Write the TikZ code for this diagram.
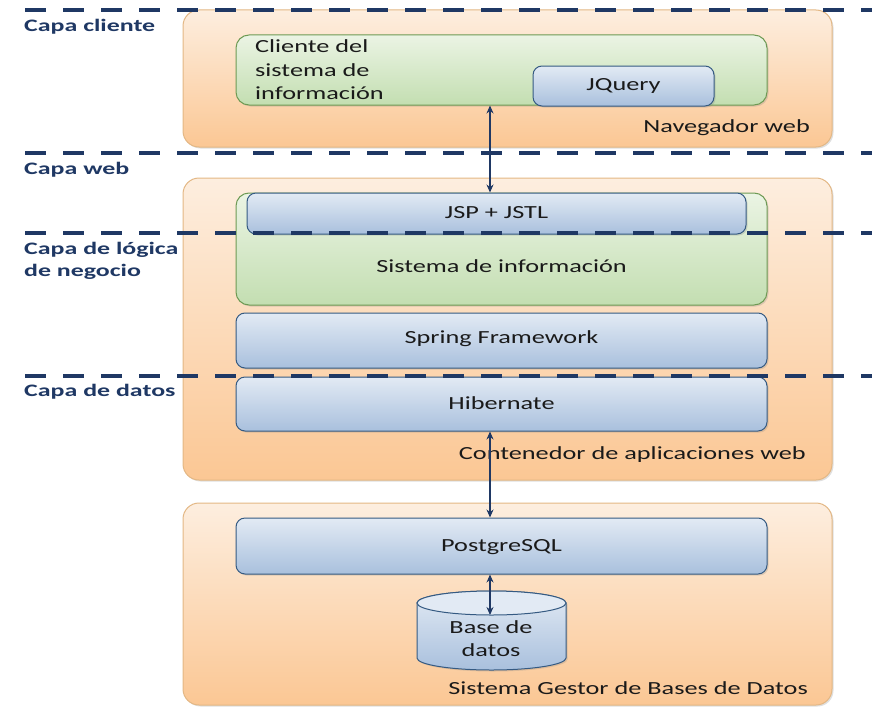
\documentclass[tikz,border=0pt]{standalone}
\usepackage{fontspec}
\usepackage{graphicx}
\setmainfont{Carlito}
\usetikzlibrary{arrows.meta,shadows}
\definecolor{navy}{HTML}{1F3864}
\definecolor{orTop}{HTML}{FDEEDF}
\definecolor{orBot}{HTML}{FBC794}
\definecolor{orLine}{HTML}{E3B784}
\definecolor{grTop}{HTML}{EBF4E4}
\definecolor{grBot}{HTML}{C3DEB1}
\definecolor{grLine}{HTML}{6E9A54}
\definecolor{blTop}{HTML}{E2EAF4}
\definecolor{blBot}{HTML}{A9C0DD}
\definecolor{blLine}{HTML}{355A82}
\definecolor{txt}{HTML}{1A1A1A}
\newcommand{\sxbox}[1]{\scalebox{1.42}[1]{#1}}
\newcommand{\sxlab}[1]{\scalebox{1.48}[1]{#1}}
\tikzset{
  outerbox/.style={rectangle, rounded corners=16pt, draw=orLine, line width=1pt, top color=orTop, bottom color=orBot, drop shadow={opacity=0.25, shadow xshift=1.5pt, shadow yshift=-1.5pt}},
  greenbox/.style={rectangle, rounded corners=13pt, draw=grLine, line width=1pt, top color=grTop, bottom color=grBot, drop shadow={opacity=0.25, shadow xshift=1.5pt, shadow yshift=-1.5pt}},
  bluebox/.style={rectangle, rounded corners=9pt, draw=blLine, line width=1pt, top color=blTop, bottom color=blBot, drop shadow={opacity=0.25, shadow xshift=1.5pt, shadow yshift=-1.5pt}},
  boxtxt/.style={font=\fontsize{18.5}{23.5}\selectfont, text=txt, inner sep=0pt},
  layertxt/.style={font=\fontsize{17.5}{22}\selectfont\bfseries, text=navy, inner sep=0pt, anchor=west, align=left},
  layerline/.style={draw=navy, line width=4pt, dash pattern=on 21pt off 17pt},
  arr/.style={draw=navy, line width=1.3pt, {Stealth[length=8pt,width=7pt]}-{Stealth[length=8pt,width=7pt]}},
}
\begin{document}
\begin{tikzpicture}[x=1pt,y=-1pt]
\useasboundingbox (0,0) rectangle (872,709);
% outer containers
\node[outerbox, minimum width=649pt, minimum height=137pt] (nav) at (507.5,78.5) {};
\node[outerbox, minimum width=649pt, minimum height=302pt] (cont) at (507.5,329) {};
\node[outerbox, minimum width=649pt, minimum height=202pt] (sgbd) at (507.5,604) {};
\node[boxtxt, anchor=east] (navl) at (810,128) {\sxbox{Navegador web}};
\node[boxtxt, anchor=east] (contl) at (806,455) {\sxbox{Contenedor de aplicaciones web}};
\node[boxtxt, anchor=east] (sgbdl) at (808,688) {\sxbox{Sistema Gestor de Bases de Datos}};
% client layer
\node[greenbox, minimum width=531pt, minimum height=70pt] (cli) at (501.5,70) {};
\node[boxtxt, anchor=west, align=left] (clil) at (255,70) {\sxbox{Cliente del}\\\sxbox{sistema de}\\\sxbox{información}};
\node[bluebox, minimum width=181pt, minimum height=40pt] (jq) at (623.5,86) {};
\node[boxtxt] (jql) at (623.5,86) {\sxbox{JQuery}};
% web container
\node[greenbox, minimum width=531pt, minimum height=112pt] (si) at (501.5,249) {};
\node[boxtxt] (sil) at (501.5,266) {\sxbox{Sistema de información}};
\node[bluebox, minimum width=499pt, minimum height=41pt] (jsp) at (496.5,213.5) {};
\node[boxtxt] (jspl) at (496.5,213) {\sxbox{JSP + JSTL}};
\node[bluebox, minimum width=531pt, minimum height=55pt] (spr) at (501.5,340.5) {};
\node[boxtxt] (sprl) at (501.5,339) {\sxbox{Spring Framework}};
\node[bluebox, minimum width=531pt, minimum height=54pt] (hib) at (501.5,404) {};
\node[boxtxt] (hibl) at (501.5,403) {\sxbox{Hibernate}};
% database
\node[bluebox, minimum width=531pt, minimum height=56pt] (pg) at (501.5,546) {};
\node[boxtxt] (pgl) at (501.5,547) {\sxbox{PostgreSQL}};
\shade[top color=blTop, bottom color=blBot, draw=blLine, line width=1pt, drop shadow={opacity=0.25, shadow xshift=1.5pt, shadow yshift=-1.5pt}]
  (417,603) -- (417,658) arc (180:360:74.5pt and 12pt) -- (566,603) arc (0:180:74.5pt and 12pt) -- cycle;
\filldraw[fill=blTop, draw=blLine, line width=1pt] (491.5,603) ellipse (74.5pt and 12pt);
\node[boxtxt, align=center] (db) at (491,638.5) {\sxbox{Base de}\\\sxbox{datos}};
\coordinate (cyltop) at (491.5,615);
% connectors
\coordinate (ax) at (490,0);
\draw[arr] (ax |- cli.south) -- (ax |- jsp.north);
\draw[arr] (ax |- hib.south) -- (ax |- pg.north);
\draw[arr] (ax |- pg.south) -- (ax |- cyltop);
% layer separators
\draw[layerline] (25,10) -- (872,10);
\draw[layerline] (25,153) -- (872,153);
\draw[layerline] (25,233) -- (872,233);
\draw[layerline] (25,376) -- (872,376);
\node[layertxt] (l1) at (24,27) {\sxlab{Capa cliente}};
\node[layertxt] (l2) at (24,170) {\sxlab{Capa web}};
\node[layertxt] (l3) at (24,261) {\sxlab{Capa de lógica}\\\sxlab{de negocio}};
\node[layertxt] (l4) at (24,392) {\sxlab{Capa de datos}};
\end{tikzpicture}
\end{document}
